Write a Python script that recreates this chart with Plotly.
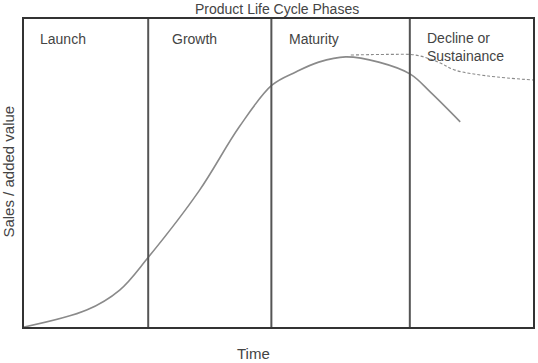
import plotly.graph_objects as go

# Phase labels and boundaries (time axis 0..100)
phase_labels = ["Launch", "Growth", "Maturity", "Decline or<br>Sustainance"]
phase_label_x = [2.7, 28.7, 51.7, 78.8]
phase_bounds = [24.4, 48.6, 75.8]

# Main sales curve (time vs sales, 0..100)
sales_time = [0, 12.3, 18.8, 24.3, 34.4, 42.3, 48.7, 53.4, 57.9, 63.2, 69.7, 75.9, 80.0, 85.7]
sales_value = [0, 5.5, 12.0, 22.4, 44.2, 65.0, 78.5, 82.8, 86.0, 87.7, 86.0, 82.1, 76.0, 66.6]

# Sustainance (dashed) curve
sust_time = [64.2, 71.6, 76.9, 81.4, 84.7, 91.2, 100]
sust_value = [88.3, 88.5, 88.3, 86.0, 83.4, 81.5, 80.2]

title_text = "Product Life Cycle Phases"
x_title = "Time"
y_title = "Sales / added value"

FONT = "Liberation Sans, Arial, sans-serif"
TXT = "#444444"

fig = go.Figure()
fig.add_trace(go.Scatter(x=sales_time, y=sales_value, mode="lines",
                         line=dict(color="#8a8a8a", width=1.6, shape="spline", smoothing=1.0),
                         hoverinfo="skip", showlegend=False))
fig.add_trace(go.Scatter(x=sust_time, y=sust_value, mode="lines",
                         line=dict(color="#8a8a8a", width=1.1, dash="3px,2px", shape="spline"),
                         hoverinfo="skip", showlegend=False))

for b in phase_bounds:
    fig.add_shape(type="line", x0=b, x1=b, y0=0, y1=100, xref="x", yref="y",
                  line=dict(color="#555555", width=2))

for lbl, lx in zip(phase_labels, phase_label_x):
    two = "<br>" in lbl
    fig.add_annotation(x=lx, y=(100 - (47 - 19) / 308 * 100) if two else (100 - (39 - 19) / 308 * 100),
                       xref="x", yref="y", text=lbl, showarrow=False,
                       xanchor="left", yanchor="middle", align="left",
                       font=dict(family=FONT, size=14, color=TXT))

fig.add_annotation(x=(278 - 24) / 511, y=1 + 18.5 / 308, xref="paper", yref="paper",
                   text=title_text, showarrow=False, xanchor="center", yanchor="top",
                   borderpad=0, font=dict(family=FONT, size=14, color=TXT))
fig.add_annotation(x=(254 - 24) / 511, y=-(354 - 327) / 308, xref="paper", yref="paper",
                   text=x_title, showarrow=False, xanchor="center", yanchor="middle",
                   font=dict(family=FONT, size=15, color=TXT))
fig.add_annotation(x=(7.5 - 24) / 511, y=(327 - 172) / 308, xref="paper", yref="paper",
                   text=y_title, showarrow=False, xanchor="center", yanchor="middle",
                   textangle=-90, font=dict(family=FONT, size=15, color=TXT))

fig.update_xaxes(range=[0, 100], showgrid=False, zeroline=False, showticklabels=False,
                 ticks="", showline=True, mirror=True, linecolor="#333333", linewidth=2)
fig.update_yaxes(range=[0, 100], showgrid=False, zeroline=False, showticklabels=False,
                 ticks="", showline=True, mirror=True, linecolor="#333333", linewidth=2)

fig.update_layout(width=538, height=363, margin=dict(l=24, r=3, t=19, b=36),
                  paper_bgcolor="white", plot_bgcolor="white")

fig.write_html("out.html")
